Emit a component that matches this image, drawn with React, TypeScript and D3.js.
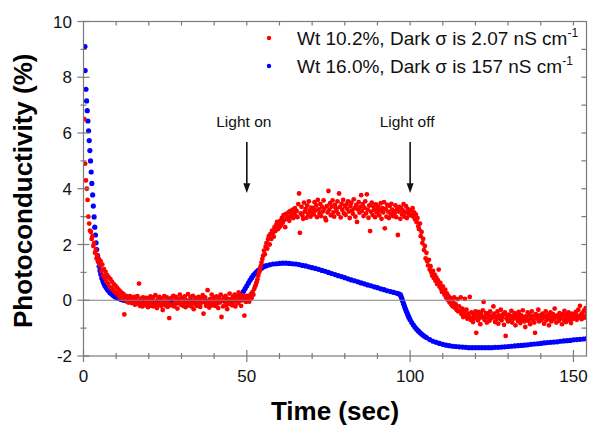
import { useEffect, useRef } from 'react';
import * as d3 from 'd3';

const W = 590;
const H = 425;

// Wt 16.0% sample: [time (s), photoconductivity (%)]
const blue: [number, number][] = [
  [0.45, 9.1], [0.5, 8.24], [0.75, 7.57], [0.95, 7.15], [1.15, 6.8], [1.35, 6.43], [1.55, 6.08], [1.75, 5.73],
  [1.95, 5.37], [2.15, 5.0], [2.35, 4.6], [2.55, 4.19], [2.8, 3.78], [3.0, 3.38], [3.25, 2.99], [3.45, 2.62],
  [3.65, 2.34], [3.85, 2.06], [4.05, 1.82], [4.3, 1.6], [4.55, 1.4], [4.8, 1.22], [5.05, 1.06], [5.3, 0.93],
  [5.6, 0.8], [5.9, 0.7], [6.2, 0.61], [6.5, 0.53], [6.9, 0.46], [7.3, 0.39], [7.7, 0.33], [8.1, 0.27],
  [8.6, 0.22], [9.1, 0.17], [9.6, 0.13], [10.2, 0.09], [10.8, 0.06], [11.5, 0.03], [12.2, 0.0], [13, -0.02],
  [14, -0.04], [15, -0.05], [16, -0.05], [17, -0.06], [18, -0.06], [19, -0.06], [20, -0.06], [21, -0.06],
  [22, -0.06], [23, -0.06], [24, -0.06], [25, -0.06], [26, -0.06], [27, -0.05], [28, -0.05], [29, -0.05],
  [30, -0.05], [31, -0.05], [32, -0.05], [33, -0.05], [34, -0.05], [35, -0.05], [36, -0.04], [37, -0.04],
  [38, -0.04], [39, -0.03], [40, -0.03], [41, -0.03], [42, -0.02], [43, -0.02], [44, -0.01], [45, 0.0],
  [46, 0.01], [46.5, 0.02], [47, 0.04], [47.5, 0.08], [48, 0.13], [48.5, 0.22], [49, 0.32], [49.5, 0.42],
  [50, 0.52], [50.5, 0.62], [51, 0.72], [51.5, 0.81], [52, 0.89], [52.5, 0.96], [53, 1.02], [53.5, 1.07],
  [54, 1.11], [54.5, 1.15], [55, 1.19], [55.5, 1.22], [56, 1.24], [57, 1.27], [58, 1.3], [59, 1.31],
  [60, 1.32], [61, 1.33], [62, 1.33], [63, 1.32], [64, 1.31], [65, 1.3], [66, 1.28], [67, 1.25],
  [68, 1.23], [69, 1.2], [70, 1.17], [71, 1.14], [72, 1.11], [73, 1.07], [74, 1.04], [75, 1.0],
  [76, 0.96], [77, 0.92], [78, 0.88], [79, 0.85], [80, 0.81], [81, 0.77], [82, 0.73], [83, 0.7],
  [84, 0.66], [85, 0.62], [86, 0.59], [87, 0.55], [88, 0.52], [89, 0.48], [90, 0.45], [91, 0.41],
  [92, 0.38], [93, 0.34], [94, 0.31], [95, 0.28], [96, 0.25], [96.5, 0.23], [97, 0.2], [97.25, 0.13],
  [97.5, 0.05], [97.75, -0.04], [98, -0.13], [98.25, -0.21], [98.5, -0.29], [98.75, -0.37], [99, -0.44], [99.25, -0.51],
  [99.5, -0.58], [99.75, -0.64], [100, -0.7], [100.5, -0.8], [101, -0.89], [101.5, -0.97], [102, -1.04], [102.5, -1.1],
  [103, -1.16], [103.5, -1.21], [104, -1.26], [104.5, -1.3], [105, -1.34], [106, -1.41], [107, -1.47], [108, -1.51],
  [109, -1.55], [110, -1.58], [111, -1.61], [112, -1.63], [113, -1.65], [114, -1.66], [115, -1.67], [116, -1.68],
  [117, -1.69], [118, -1.7], [119, -1.7], [120, -1.7], [121, -1.7], [122, -1.7], [123, -1.7], [124, -1.7],
  [125, -1.7], [126, -1.69], [127, -1.69], [128, -1.68], [129, -1.67], [130, -1.66], [131, -1.65], [132, -1.64],
  [133, -1.63], [134, -1.62], [135, -1.61], [136, -1.6], [137, -1.58], [138, -1.57], [139, -1.56], [140, -1.55],
  [141, -1.53], [142, -1.52], [143, -1.51], [144, -1.5], [145, -1.49], [146, -1.47], [147, -1.46], [148, -1.45],
  [149, -1.44], [150, -1.42], [151, -1.41], [152, -1.4], [153, -1.39], [154, -1.38], [155, -1.37],
];

// Wt 10.2% sample, read every 0.25 s; one row per 5 s, first row starts at t = 0.25
const redStep = 0.25;
const redRows: number[][] = [
  [6.5, 4.9, 4.3, 4.0, 3.6, 3.0, 2.75, 2.5, 2.45, 2.2, 2.3, 1.95, 2.05, 1.7, 1.8, 1.5, 1.62, 1.38, 1.47, 1.25],
  [1.4, 1.05, 1.28, 0.88, 1.12, 0.8, 1.02, 0.68, 0.9, 0.6, 0.82, 0.48, 0.76, 0.44, 0.66, 0.38, 0.58, 0.3, 0.52, 0.26],
  [0.45, 0.2, 0.38, 0.12, 0.32, 0.08, 0.26, 0.04, 0.22, -0.51, 0.1, 0.16, -0.04, 0.14, -0.08, 0.1, 0.15, -0.02, -0.1, 0.06],
  [-0.08, 0.12, -0.16, 0.04, -0.12, 0.15, -0.04, 0.6, -0.2, 0.06, -0.1, -0.22, 0.1, -0.14, 0.02, -0.18, 0.08, -0.06, -0.25, 0.05],
  [-0.12, 0.14, -0.2, -0.02, 0.1, -0.22, -0.08, 0.18, -0.14, -0.28, 0.04, -0.16, 0.12, -0.06, -0.2, 0.06, -0.35, -0.1, 0.15, -0.18],
  [-0.04, 0.1, -0.24, -0.1, -0.64, 0.06, -0.18, 0.08, -0.15, 0.16, -0.22, -0.02, 0.12, -0.12, -0.3, 0.05, -0.08, 0.2, -0.16, -0.04],
  [0.08, -0.2, -0.08, 0.14, -0.25, 0.0, -0.12, 0.22, -0.18, -0.05, 0.1, -0.22, -0.1, 0.16, -0.32, 0.02, -0.15, 0.08, -0.2, -0.04],
  [0.12, -0.16, -0.24, 0.05, -0.08, 0.18, -0.48, -0.04, 0.1, -0.2, -0.06, 0.36, -0.14, -0.26, 0.04, -0.1, 0.2, -0.18, -0.05, 0.1],
  [-0.2, -0.02, 0.14, -0.12, -0.28, 0.08, -0.08, 0.2, -0.6, 0.0, -0.22, 0.1, -0.05, 0.16, -0.18, -0.32, 0.05, -0.1, 0.24, -0.14],
  [0.04, -0.18, 0.12, -0.06, 0.2, -0.22, 0.02, 0.15, -0.1, 0.28, -0.04, 0.1, -0.2, 0.18, 0.0, 0.14, -0.55, 0.1, -0.06, 0.16],
  [0.04, 0.15, -0.05, 0.12, 0.22, 0.08, 0.3, 0.2, 0.4, 0.48, 0.56, 0.65, 0.75, 0.88, 1.0, 1.08, 1.22, 1.35, 1.48, 1.6],
  [1.78, 1.65, 1.92, 2.05, 1.85, 2.18, 2.3, 2.0, 2.38, 2.2, 2.5, 2.42, 2.28, 2.62, 2.48, 2.7, 2.81, 2.55, 2.76, 2.62],
  [2.85, 2.7, 2.95, 2.78, 3.05, 2.88, 2.62, 3.1, 2.92, 3.0, 3.15, 2.85, 3.2, 2.98, 3.08, 3.25, 2.95, 3.12, 3.3, 3.02],
  [3.2, 2.98, 3.45, 3.83, 2.42, 3.12, 3.35, 3.05, 2.92, 3.5, 3.18, 3.28, 2.96, 3.4, 3.1, 3.55, 3.22, 3.0, 3.32, 3.14],
  [3.3, 3.08, 3.52, 3.22, 3.4, 2.98, 3.6, 3.26, 3.12, 3.45, 3.02, 3.35, 3.18, 3.58, 3.28, 2.95, 2.87, 3.38, 3.15, 3.92],
  [3.25, 3.48, 3.05, 3.36, 3.58, 3.15, 3.0, 3.42, 3.3, 3.2, 3.55, 3.1, 3.83, 3.34, 2.97, 3.46, 3.24, 3.6, 3.12, 3.38],
  [3.06, 3.44, 3.28, 3.55, 3.18, 2.95, 3.38, 3.5, 3.22, 3.1, 3.62, 3.3, 3.0, 3.42, 2.81, 3.26, 3.52, 3.14, 3.35, 3.77],
  [3.2, 3.45, 3.02, 3.32, 3.55, 3.12, 3.8, 3.25, 2.96, 3.4, 2.48, 3.18, 3.5, 3.06, 3.36, 3.24, 2.98, 3.44, 3.15, 3.3],
  [3.35, 3.05, 3.22, 3.48, 2.92, 3.3, 3.15, 3.52, 2.58, 3.28, 3.0, 3.42, 3.18, 2.95, 3.38, 3.1, 3.46, 3.25, 3.02, 3.2],
  [3.12, 3.4, 2.98, 3.26, 2.34, 3.18, 3.35, 2.92, 3.3, 3.08, 3.22, 3.45, 3.0, 3.15, 3.38, 2.95, 3.28, 3.1, 3.2, 3.05],
  [3.22, 3.05, 3.3, 3.0, 3.15, 2.9, 3.08, 2.8, 2.95, 2.65, 2.55, 2.75, 2.3, 2.45, 2.05, 2.2, 1.8, 1.95, 1.5, 1.7],
  [1.4, 1.25, 1.45, 1.1, 1.22, 1.0, 0.88, 1.05, 0.8, 0.92, 0.7, 0.82, 0.58, 0.72, 1.1, 0.48, 0.62, 0.4, 0.3, 0.5],
  [0.32, 0.2, 0.38, 0.1, 0.25, 0.02, 0.15, -0.06, 0.08, -0.14, 0.04, -0.22, -0.08, 0.1, -0.28, -0.15, -0.35, 0.04, -0.4, -0.22],
  [-0.38, 0.1, -0.5, -0.3, -0.6, -0.42, 0.05, -0.56, -0.34, -0.66, -0.48, -0.58, 0.12, -0.7, -0.44, -0.62, -0.78, -0.5, -0.64, -0.4],
  [-1.17, -0.55, -0.72, -0.42, -0.64, -0.86, -0.5, -0.6, -0.36, -0.06, -0.7, -0.58, -0.46, -0.8, -0.62, -0.52, -0.74, -0.4, -0.66, -0.56],
  [-0.62, -0.22, -0.48, -0.78, -0.58, -0.68, -0.4, -0.84, -0.54, -0.64, -0.34, -0.72, -0.6, -0.5, -0.88, -0.44, -1.28, -0.66, -0.56, -0.76],
  [-0.52, -0.7, -0.62, -0.38, -0.8, -0.56, -0.66, -0.46, -0.9, -0.6, -0.5, -0.74, -0.42, -0.64, -0.82, -0.54, -0.7, -0.36, -0.6, -0.76],
  [-0.96, -0.58, -0.68, -0.44, -0.74, -0.52, -0.86, -0.62, -0.4, -0.7, -0.56, -0.8, -1.17, -0.5, -0.66, -0.6, -0.34, -0.76, -0.54, -0.64],
  [-0.7, -0.48, -0.62, -0.84, -0.56, -0.4, -0.72, -0.6, -0.52, -0.9, -0.66, -0.44, -0.76, -0.58, -0.5, -0.68, -0.3, -0.62, -0.8, -0.54],
  [-0.6, -0.74, -0.46, -0.66, -0.56, -0.86, -0.5, -0.7, -0.38, -0.62, -0.78, -0.52, -0.64, -0.44, -0.72, -0.58, -0.82, -0.48, -0.68, -0.56],
  [-0.5, -0.64, -0.42, -0.7, -0.56, -0.34, -0.6, -0.2, -0.52, -0.68, -0.46, -0.58, -0.36, -0.62, -0.28, -0.54, -0.44, -0.66, -0.4, -0.5],
];

const xLabelTicks = [0, 50, 100, 150];
const xMinorTicks = [10, 20, 30, 40, 60, 70, 80, 90, 110, 120, 130, 140];
const xTopTicks = [10, 20, 30, 40, 50, 60, 70, 80, 90, 100, 110, 120, 130, 140, 150];
const yLabelTicks = [-2, 0, 2, 4, 6, 8, 10];
const yMinorTicks = [-1, 1, 3, 5, 7, 9];
const yRightTicks = [-1, 1, 2, 3, 4, 5, 6, 7, 8, 9];

const legendItems = [
  { color: '#ff0000', text: 'Wt 10.2%, Dark σ is 2.07 nS cm', sup: '-1' },
  { color: '#0000ff', text: 'Wt 16.0%, Dark σ is 157 nS cm', sup: '-1' },
];

const lightMarks = [
  { label: 'Light on', t: 50 },
  { label: 'Light off', t: 100 },
];

const FONT = '"Liberation Sans", Arial, Helvetica, sans-serif';

export default function App() {
  const ref = useRef<SVGSVGElement>(null);

  useEffect(() => {
    const svg = d3.select(ref.current);
    svg.selectAll('*').remove();

    const x = d3.scaleLinear().domain([0, 154]).range([83.5, 586.5]);
    const y = d3.scaleLinear().domain([-2, 10]).range([356, 21.5]);
    const [x0, x1] = x.range();
    const [y0, y1] = y.range();
    const axisColor = '#7a7a7a';

    svg.append('rect').attr('width', W).attr('height', H).attr('fill', '#ffffff');

    svg.append('clipPath').attr('id', 'plot-clip')
      .append('rect').attr('x', x0).attr('y', y1).attr('width', x1 - x0).attr('height', y0 - y1);

    const plot = svg.append('g').attr('clip-path', 'url(#plot-clip)');

    plot.append('g').selectAll('circle')
      .data(blue)
      .join('circle')
      .attr('cx', d => x(d[0]))
      .attr('cy', d => y(d[1]))
      .attr('r', 2.6)
      .attr('fill', '#0000ff');

    const red: [number, number][] = redRows.flatMap((row, r) =>
      row.map((v, i) => [redStep + r * 5 + i * redStep, v] as [number, number]));

    plot.append('g').selectAll('circle')
      .data(red)
      .join('circle')
      .attr('cx', d => x(d[0]))
      .attr('cy', d => y(d[1]))
      .attr('r', 2.4)
      .attr('fill', '#ff0000');

    // zero line, drawn over the points
    svg.append('line')
      .attr('x1', x0).attr('x2', x1).attr('y1', y(0)).attr('y2', y(0))
      .attr('stroke', '#808080').attr('stroke-width', 1.2);

    // frame
    const frame = svg.append('g').attr('stroke', axisColor).attr('stroke-width', 1.2);
    frame.append('rect')
      .attr('x', x0).attr('y', y1).attr('width', x1 - x0).attr('height', y0 - y1)
      .attr('fill', 'none');

    // bottom axis ticks, crossing the axis
    frame.selectAll('.xmaj').data(xLabelTicks).join('line')
      .attr('x1', d => x(d)).attr('x2', d => x(d)).attr('y1', y0 - 6).attr('y2', y0 + 6);
    frame.selectAll('.xmin').data(xMinorTicks).join('line')
      .attr('x1', d => x(d)).attr('x2', d => x(d)).attr('y1', y0 - 3).attr('y2', y0 + 3);
    // top ticks point inward
    frame.selectAll('.xtop').data(xTopTicks).join('line')
      .attr('x1', d => x(d)).attr('x2', d => x(d)).attr('y1', y1).attr('y2', y1 + 4);
    // left axis ticks
    frame.selectAll('.ymaj').data(yLabelTicks).join('line')
      .attr('x1', x0 - 6).attr('x2', x0 + 6).attr('y1', d => y(d)).attr('y2', d => y(d));
    frame.selectAll('.ymin').data(yMinorTicks).join('line')
      .attr('x1', x0 - 3).attr('x2', x0 + 3).attr('y1', d => y(d)).attr('y2', d => y(d));
    // right ticks point inward
    frame.selectAll('.yright').data(yRightTicks).join('line')
      .attr('x1', x1 - 5).attr('x2', x1).attr('y1', d => y(d)).attr('y2', d => y(d));

    svg.append('g').selectAll('text').data(xLabelTicks).join('text')
      .attr('x', d => x(d)).attr('y', 382)
      .attr('text-anchor', 'middle')
      .attr('font-family', FONT).attr('font-size', 17).attr('fill', '#111')
      .text(d => d);

    svg.append('g').selectAll('text').data(yLabelTicks).join('text')
      .attr('x', 72).attr('y', d => y(d) + 6)
      .attr('text-anchor', 'end')
      .attr('font-family', FONT).attr('font-size', 17).attr('fill', '#111')
      .text(d => d);

    svg.append('text')
      .attr('x', (x0 + x1) / 2).attr('y', 420)
      .attr('text-anchor', 'middle')
      .attr('font-family', FONT).attr('font-size', 26).attr('font-weight', 'bold')
      .text('Time (sec)');

    svg.append('text')
      .attr('transform', `translate(32,${(y0 + y1) / 2 + 2}) rotate(-90)`)
      .attr('text-anchor', 'middle')
      .attr('font-family', FONT).attr('font-size', 26).attr('font-weight', 'bold')
      .text('Photoconductivity (%)');

    // legend
    const legend = svg.append('g');
    legendItems.forEach((item, i) => {
      const ly = 45 + i * 28;
      legend.append('circle').attr('cx', 269).attr('cy', ly - 7).attr('r', 2.2).attr('fill', item.color);
      const t = legend.append('text')
        .attr('x', 297).attr('y', ly)
        .attr('font-family', FONT).attr('font-size', 19).attr('fill', '#111');
      t.append('tspan').text(item.text);
      t.append('tspan').attr('dy', -8).attr('font-size', 12).text(item.sup);
    });

    // light on / off arrows
    const marks = svg.append('g');
    lightMarks.forEach(m => {
      const mx = x(m.t);
      marks.append('text')
        .attr('x', mx - 3).attr('y', y(6.22))
        .attr('text-anchor', 'middle')
        .attr('font-family', FONT).attr('font-size', 15.5).attr('fill', '#111')
        .text(m.label);
      marks.append('line')
        .attr('x1', mx).attr('x2', mx).attr('y1', y(5.68)).attr('y2', y(4.05))
        .attr('stroke', '#111').attr('stroke-width', 1.6);
      marks.append('path')
        .attr('d', `M${mx - 3.5},${y(4.2)} L${mx + 3.5},${y(4.2)} L${mx},${y(3.85)} Z`)
        .attr('fill', '#111');
    });
  }, []);

  return (
    <svg ref={ref} width={W} height={H} style={{ position: 'absolute', left: 0, top: 0 }} />
  );
}
